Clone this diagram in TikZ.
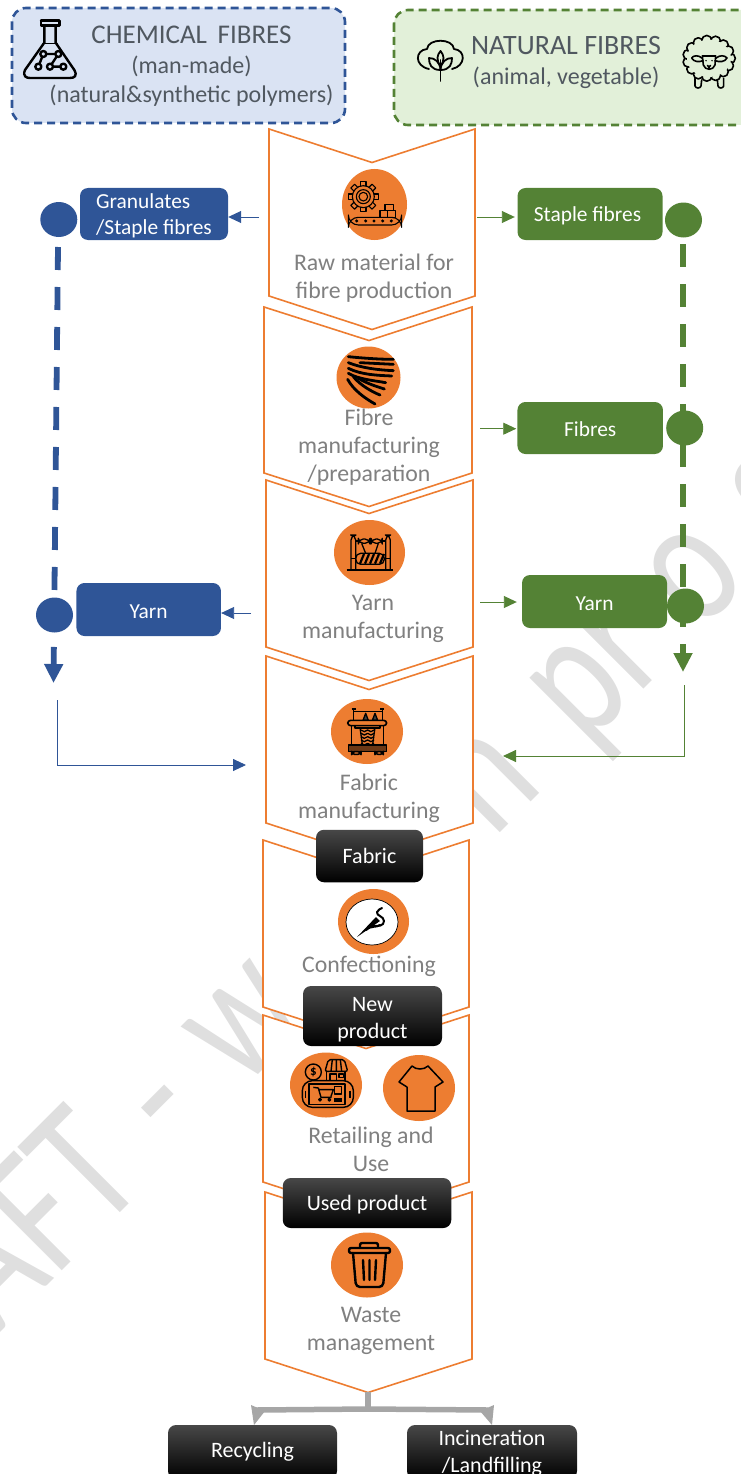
\documentclass[tikz,border=0pt]{standalone}
\usepackage{fontspec}
\usepackage{graphicx}
\setmainfont{Carlito}
\usetikzlibrary{shapes.geometric,arrows.meta}
\definecolor{orangeA}{HTML}{ED7D31}
\definecolor{blueA}{HTML}{2F5597}
\definecolor{greenA}{HTML}{548235}
\definecolor{chemfill}{HTML}{DAE3F3}
\definecolor{natfill}{HTML}{E2F0D9}
\definecolor{headtxt}{HTML}{505860}
\definecolor{labeltxt}{HTML}{808080}
\definecolor{wmark}{HTML}{DFDFDF}
\definecolor{greyA}{HTML}{A6A6A6}
\tikzset{
  x=1pt,y=-1pt,
  panelshape/.style={draw=orangeA,fill=white,line width=1.6pt,line join=miter},
  disc/.style={ellipse,fill=orangeA,inner sep=0pt,draw=none},
  dot/.style={ellipse,inner sep=0pt,minimum width=37pt,minimum height=35pt},
  headbox/.style={rounded corners=14pt,line width=2.6pt,dash pattern=on 8pt off 5pt},
  colbox/.style={rounded corners=8pt,text=white,inner sep=0pt,font=\fontsize{21.4}{26}\selectfont,align=center},
  blackbox/.style={rounded corners=8pt,text=white,inner sep=0pt,font=\fontsize{22}{27}\selectfont,align=center,
     top color=black!72,middle color=black,bottom color=black},
  steplabel/.style={text=labeltxt,font=\fontsize{23.8}{28}\selectfont,align=center,inner sep=0pt},
  headlabel/.style={text=headtxt,font=\fontsize{24}{29.5}\selectfont,align=center,inner sep=0pt},
  thinarrow/.style={line width=0.9pt,-{Triangle[length=13pt,width=12pt]}},
  thickarrow/.style={line width=5.8pt,dash pattern=on 23pt off 17pt,-{Triangle[length=19pt,width=18pt]}},
  wmtext/.style={text=wmark,rotate=45,inner sep=0pt,font=\fontsize{185}{185}\selectfont},
}
% left right top bottom xcentre
\newcommand{\chevron}[5]{\path[panelshape] (#1,#3)--(#5,#3+33.5)--(#2,#3)--(#2,#4)--(#5,#4+33.5)--(#1,#4)--cycle;}
\newcommand{\dn}{\rule{0pt}{18pt}}
\begin{document}
\begin{tikzpicture}
\useasboundingbox (0,0) rectangle (741,1474);
\clip (0,0) rectangle (741,1474);
% watermark
\node[wmtext,anchor=base east] (wma) at (314,1019) {\scalebox{.76}[1]{AFT \hspace{15pt}-\hspace{19pt} w}};
\node[wmtext,anchor=base west] (wmb) at (493,840) {\scalebox{.76}[1]{n\hspace{33pt} pr\hspace{50pt}o\hspace{60pt}g}};
% header boxes
\path[headbox,fill=chemfill,draw=blueA] (12,8) rectangle (345,123);
\path[headbox,fill=natfill,draw=greenA] (394,10) rectangle (760,125);
\node[headlabel] (chem) at (191.5,66.5) {{\fontsize{27}{29.5}\selectfont CHEMICAL\, FIBRES}\\(man-made)\\(natural\&synthetic polymers)};
\node[headlabel] (nat) at (566,62.5) {{\fontsize{28}{29.5}\selectfont NATURAL FIBRES}\\(animal, vegetable)};
% panels
\chevron{269}{475}{129}{296}{372}
\chevron{264}{472}{307}{473}{369}
\chevron{266}{473}{480}{647}{369}
\chevron{266}{473}{656}{823}{369}
\chevron{263}{469}{840}{1007}{366}
\chevron{263}{469}{1015}{1182}{366}
\chevron{265}{472}{1192}{1359}{368}
% discs
\node[disc,minimum width=65pt,minimum height=71pt] (d1) at (374.5,204.5) {};
\node[disc,minimum width=64pt,minimum height=62pt] (d2) at (368.5,377.5) {};
\node[disc,minimum width=71pt,minimum height=65pt] (d3) at (369.5,552.5) {};
\node[disc,minimum width=72pt,minimum height=65pt] (d4) at (367,731.5) {};
\node[disc,minimum width=71pt,minimum height=65pt] (d5) at (373.5,921.5) {};
\node[ellipse,draw=black,line width=0.7pt,fill=white,inner sep=0pt,minimum width=52pt,minimum height=46pt] (d5i) at (372,922) {};
\node[disc,minimum width=72pt,minimum height=65pt] (d6) at (326,1085) {};
\node[disc,minimum width=72pt,minimum height=66pt] (d7) at (419,1088) {};
\node[disc,minimum width=72pt,minimum height=65pt] (d8) at (367,1265) {};
% labels
\node[steplabel] (l1) at (374,278) {Raw material for\\fibre production};
\node[steplabel] (l2) at (369,447) {Fibre\\manufacturing\\/preparation};
\node[steplabel] (l3) at (373,618.5) {Yarn\\manufacturing};
\node[steplabel] (l4) at (369,798) {Fabric\\manufacturing};
\node[steplabel] (l5) at (369,966.5) {Confectioning};
\node[steplabel] (l6) at (371,1149.5) {Retailing and\\Use};
\node[steplabel] (l7) at (371,1330.5) {Waste\\management};
% dashed routes
\coordinate (bs) at (58,247);
\coordinate (be) at (53.5,683);
\coordinate (gs) at (683,244);
\coordinate (ge) at (683,672);
\draw[thickarrow,draw=blueA] (bs) -- (be);
\draw[thickarrow,draw=greenA] (gs) -- (ge);
% coloured boxes
\node[colbox,fill=blueA,minimum width=148pt,minimum height=52pt,align=left] (gran) at (154,214) {\dn Granulates\\/Staple fibres};
\node[dot,fill=blueA] (gdot) at (58.8,219.5) {};
\node[colbox,fill=blueA,minimum width=144.5pt,minimum height=53pt] (byarn) at (148.7,609.5) {\dn Yarn};
\node[dot,fill=blueA] (ydot) at (54.5,615) {};
\node[colbox,fill=greenA,minimum width=145pt,minimum height=52pt] (stap) at (590,214) {\dn\hspace*{-5pt}Staple fibres};
\node[dot,fill=greenA] (sdot) at (683.5,220) {};
\node[colbox,fill=greenA,minimum width=145.5pt,minimum height=52pt] (fib) at (590.2,428) {\dn Fibres};
\node[dot,fill=greenA] (fdot) at (684.7,428) {};
\node[colbox,fill=greenA,minimum width=145pt,minimum height=53pt] (gyarn) at (594.5,601.5) {\dn Yarn};
\node[dot,fill=greenA] (gydot) at (685.5,606) {};
% thin arrows
\coordinate (p1w) at (259,217);
\coordinate (p1e) at (477,217);
\coordinate (p2e) at (480,428.7);
\coordinate (p3e) at (480,602);
\coordinate (p3w) at (251,613);
\coordinate (bel) at (57.7,700);
\coordinate (bet) at (246,765);
\coordinate (gel) at (684.5,685);
\coordinate (get) at (503,756);
\draw[thinarrow,draw=blueA] (p1w) -- (gran.east |- p1w);
\draw[thinarrow,draw=greenA,shorten >=2.5pt] (p1e) -- (stap.west |- p1e);
\draw[thinarrow,draw=greenA,shorten >=1pt] (p2e) -- (fib.west |- p2e);
\draw[thinarrow,draw=greenA,shorten >=5pt] (p3e) -- (gyarn.west |- p3e);
\draw[thinarrow,draw=blueA] (p3w) -- (byarn.east |- p3w);
\draw[thinarrow,draw=blueA] (bel) |- (bet);
\draw[thinarrow,draw=greenA] (gel) |- (get);
% black boxes
\node[blackbox,minimum width=107pt,minimum height=52.5pt] (bf) at (369.5,856) {Fabric};
\node[blackbox,minimum width=139pt,minimum height=60pt] (bn) at (372.5,1016) {\rule{0pt}{21pt}New\\product};
\node[blackbox,minimum width=168.5pt,minimum height=50pt] (bu) at (367,1203) {\rule{0pt}{19pt}Used product};
\node[blackbox,minimum width=169pt,minimum height=54pt] (br) at (252.5,1452) {Recycling};
\node[blackbox,minimum width=170pt,minimum height=54pt] (bi) at (492,1452) {\rule{0pt}{17pt}Incineration\\/Landfilling};
% waste split
\coordinate (wtip) at (368,1392);
\coordinate (hub) at (368,1409);
\coordinate (hl) at (256,1410);
\coordinate (hr) at (488,1410);
\draw[greyA,line width=6pt] (wtip) -- (hub);
\draw[greyA,line width=5.5pt] (hl) -- (hub) -- (hr);
\fill[greyA] (hl)++(-5,-5) -- ++(14,6) -- ++(-11,14) -- cycle;
\fill[greyA] (hr)++(6,-5) -- ++(-14,6) -- ++(12,14) -- cycle;
% --- icons ---
% flask
\begin{scope}[shift={(15,10)},x=.3333pt,y=-.3333pt,line width=2.4pt,line join=round,line cap=round]
\draw (78,32) -- (133,32) (78,32) -- (78,47) -- (133,47) -- (133,32);
\draw (88,47) -- (88,98) -- (30,180) .. controls (22,200) and (35,204) .. (45,204) -- (165,204) .. controls (178,204) and (188,198) .. (178,180) -- (122,98) -- (122,47);
\draw[line width=1.6pt] (84,100) -- (126,100);
\draw[line width=2.4pt] (85,132) -- (130,132) (85,132) -- (70,170) (130,132) -- (105,170) (105,170) -- (145,170);
\foreach \p in {(85,132),(130,132),(70,170),(105,170),(145,170)} \draw[line width=2.4pt,fill=chemfill] \p circle (9);
\end{scope}
% cotton
\begin{scope}[line width=1.8pt,line cap=round,line join=round]
\draw (429,69) .. controls (414,66) and (415,50) .. (427,49) .. controls (428,38) and (453,38) .. (454,49) .. controls (466,50) and (466,66) .. (452,69);
\draw (440.5,81) -- (440.5,60);
\draw (440.5,70) .. controls (431,70) and (429,64) .. (429,58) .. controls (435,58) and (440,62) .. (440.5,70);
\draw (440.5,70) .. controls (450,70) and (452,64) .. (452,58) .. controls (446,58) and (441,62) .. (440.5,70);
\draw (440.5,66) .. controls (436,60) and (437,55) .. (440.5,51) .. controls (444,55) and (445,60) .. (440.5,66);
\end{scope}
% sheep
\begin{scope}[shift={(675,30)},x=.3333pt,y=-.3333pt,line width=1.6pt,line join=round,line cap=round]
\draw (60,145) -- (60,168) .. controls (62,176) and (76,176) .. (78,168) -- (80,150);
\draw (127,150) -- (129,168) .. controls (131,176) and (144,176) .. (146,168) -- (146,145);
\foreach \a in {0,24,...,336} \draw[fill=natfill] ({102+64*cos(\a)},{85+54*sin(\a)}) circle (15);
\fill[natfill] (102,85) ellipse [x radius=66,y radius=56];
\draw (82,85) .. controls (70,74) and (55,76) .. (50,84) .. controls (56,96) and (72,97) .. (84,92);
\draw (122,85) .. controls (134,74) and (150,76) .. (156,84) .. controls (150,96) and (134,97) .. (120,92);
\draw (82,78) -- (122,78) -- (120,105) .. controls (115,122) and (90,122) .. (85,105) -- cycle;
\fill (93,92) circle (2.5) (111,92) circle (2.5);
\draw (97,106) -- (102,111) -- (107,106) (102,111) -- (102,116);
\end{scope}
% gear and conveyor
\begin{scope}[shift={(330,160)},x=.3333pt,y=-.3333pt,line width=1.1pt,line join=round]
\foreach \a in {0,45,...,315} \draw[fill=orangeA,rotate around={\a:(100,110)}] (92,65) rectangle (108,80);
\draw[fill=orangeA] (100,110) circle (33);
\draw (100,110) circle (21) (100,110) circle (13);
\draw[fill=orangeA] (165,133) rectangle (190,152) (150,152) rectangle (172,172) (172,152) rectangle (197,172);
\draw[fill=orangeA,rounded corners=10pt] (55,172) rectangle (215,195);
\foreach \p in {80,107,132,158,184} \fill (\p,183) circle (5);
\end{scope}
% fibres
\begin{scope}[shift={(325,340)},x=.3333pt,y=-.3333pt,line width=2.8pt,line cap=round]
\draw (70,50) .. controls (110,54) and (160,58) .. (205,58);
\draw (105,68) -- (205,73);
\draw (70,68) .. controls (110,84) and (160,90) .. (205,92);
\draw (70,85) .. controls (110,105) and (160,106) .. (200,108);
\draw (70,100) .. controls (100,118) and (150,122) .. (182,128);
\draw (100,115) .. controls (125,130) and (150,138) .. (178,147);
\draw (85,110) .. controls (105,135) and (140,155) .. (165,165);
\draw (68,118) .. controls (85,150) and (120,175) .. (150,192);
\end{scope}
% spinning frame
\begin{scope}[shift={(325,515)},x=.3333pt,y=-.3333pt,line width=1.3pt,line join=round]
\draw[rounded corners=5pt] (78,165) -- (78,60) -- (92,60) -- (92,165);
\draw[rounded corners=5pt] (182,165) -- (182,60) -- (196,60) -- (196,165);
\draw[line width=1.6pt] (65,165) -- (205,165);
\draw[rounded corners=5pt] (100,72) rectangle (135,85) (138,72) rectangle (172,85);
\draw (92,78) -- (100,78) (135,78) -- (138,78) (172,78) -- (182,78);
\draw (110,85) -- (122,115) (160,85) -- (150,115);
\draw[rounded corners=5pt] (92,115) rectangle (178,148);
\draw (78,130) -- (92,130) (178,130) -- (196,130);
\foreach \p in {105,120,135,150,165} \draw[line width=2.2pt] (\p,146) -- (\p+12,117);
\end{scope}
% loom
\begin{scope}[shift={(325,695)},x=.3333pt,y=-.3333pt,line width=1.3pt,line join=round]
\draw (80,42) -- (92,42) (86,42) -- (86,76) (166,42) -- (178,42) (172,42) -- (172,76) (86,50) -- (172,50);
\draw[fill=black!75] (122,55) -- (130,76) -- (114,76) -- cycle (150,55) -- (158,76) -- (142,76) -- cycle;
\draw[rounded corners=3pt,line width=1.6pt] (68,76) rectangle (185,92);
\draw[line width=1.8pt] (90,92) -- (90,98) -- (165,98) -- (165,92);
\draw (80,92) -- (80,150) (175,92) -- (175,150);
\draw (105,98) -- (112,148) (150,98) -- (143,148);
\foreach \q in {105,115,...,145} \draw (108,\q) -- (118,\q+5) -- (128,\q) -- (138,\q+5) -- (147,\q);
\draw[line width=1.6pt,fill=black!55!orangeA] (70,150) rectangle (185,170);
\draw[rounded corners=3pt,line width=1.6pt] (80,170) rectangle (108,178) (150,170) rectangle (175,178);
\end{scope}
% needle
\begin{scope}[line cap=round,line join=round]
\fill (357,937) -- (376,917) -- (380,921) -- cycle;
\draw[line width=2pt] (371,925) .. controls (378,927) and (384,926) .. (384,921) .. controls (384,916) and (376,916) .. (377,912) .. controls (378,909) and (381,909) .. (382,908);
\draw[line width=2pt] (366,930) .. controls (372,925) and (376,928) .. (380,925);
\end{scope}
% shop
\begin{scope}[shift={(285,1048)},x=.3333pt,y=-.3333pt,line width=1.4pt,line join=round]
\draw (85,72) circle (24);
\node[inner sep=0pt,font=\fontsize{13}{13}\selectfont\bfseries] (dollar) at (85,72) {\$};
\draw[rounded corners=2pt] (120,70) -- (130,35) -- (178,35) -- (188,70) -- cycle;
\draw (142,35) -- (138,70) (166,35) -- (170,70) (154,35) -- (154,70);
\draw (125,70) -- (125,98) (180,70) -- (180,98);
\draw (135,98) -- (135,78) -- (155,78) -- (155,98) (162,78) rectangle (175,88);
\draw[rounded corners=10pt] (52,98) rectangle (205,178);
\draw (72,108) rectangle (180,170);
\draw (62,128) -- (62,150) (195,128) -- (195,150);
\draw (85,118) -- (100,120) -- (108,148) -- (140,148) (100,125) -- (145,125) -- (138,145);
\draw (105,155) circle (4) (133,155) circle (4);
\draw (148,115) rectangle (170,138);
\foreach \p in {150,156,162,168} \draw (\p,150) -- (\p,162);
\end{scope}
% t-shirt
\draw[line width=1.5pt,line join=round] (412,1066) .. controls (416,1070) and (424,1070) .. (428,1066) -- (443,1082) -- (435,1087) -- (435,1111) -- (407,1111) -- (407,1087) -- (399,1082) -- cycle;
% bin
\begin{scope}[line width=2.4pt,line join=round,line cap=round]
\draw[rounded corners=2pt] (349,1248) rectangle (390,1253);
\draw[rounded corners=2pt] (360,1248) -- (360,1243) -- (378,1243) -- (378,1248);
\draw[rounded corners=4pt] (353,1253) -- (356,1287) -- (383,1287) -- (386,1253);
\draw (363,1260) -- (364,1280) (369.5,1260) -- (369.5,1280) (376,1260) -- (375,1280);
\end{scope}
\end{tikzpicture}
\end{document}
